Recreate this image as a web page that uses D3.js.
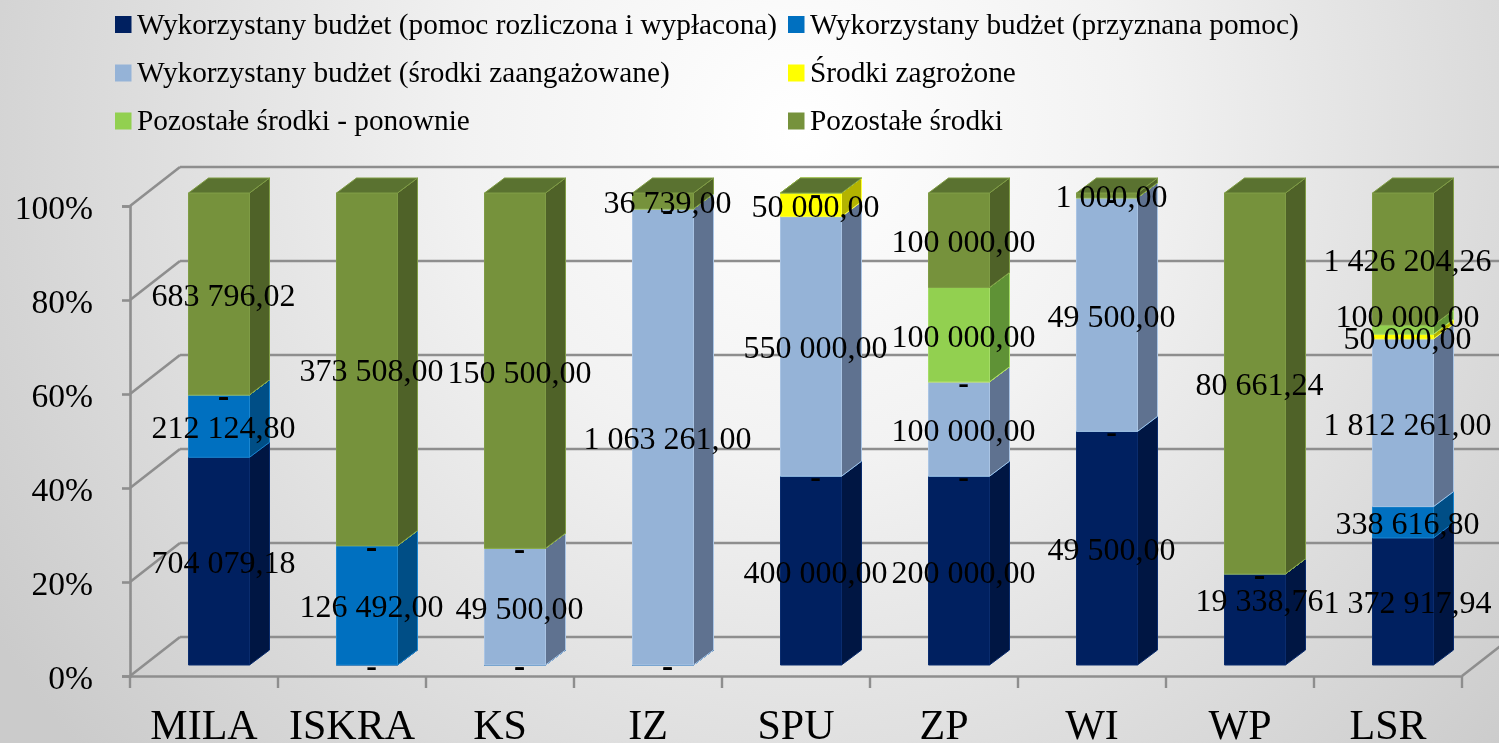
<!DOCTYPE html>
<html>
<head>
<meta charset="utf-8">
<script src="https://cdn.jsdelivr.net/npm/d3@7"></script>
<style>
  html, body { margin: 0; padding: 0; overflow: hidden; }
  text { font-family: "Liberation Serif", serif; fill: #000; }
  svg { filter: blur(0.4px); }
</style>
</head>
<body>
<div id="chart"></div>
<script>
var categories = ["MILA", "ISKRA", "KS", "IZ", "SPU", "ZP", "WI", "WP", "LSR"];
var seriesNames = [
  "Wykorzystany budżet (pomoc rozliczona i wypłacona)",
  "Wykorzystany budżet (przyznana pomoc)",
  "Wykorzystany budżet (środki zaangażowane)",
  "Środki zagrożone",
  "Pozostałe środki - ponownie",
  "Pozostałe środki"
];
var wyplacona   = [704079.18, 0, 0, 0, 400000, 200000, 49500, 19338.76, 1372917.94];
var przyznana   = [212124.80, 126492, 0, 0, 0, 0, 0, 0, 338616.80];
var zaangazowane = [0, 0, 49500, 1063261, 550000, 100000, 49500, 0, 1812261];
var zagrozone   = [0, 0, 0, 0, 50000, 0, 0, 0, 50000];
var ponownie    = [0, 0, 0, 0, 0, 100000, 0, 0, 100000];
var pozostale   = [683796.02, 373508, 150500, 36739, 0, 100000, 1000, 80661.24, 1426204.26];
var seriesValues = [wyplacona, przyznana, zaangazowane, zagrozone, ponownie, pozostale];

var frontColors = ["#002060", "#0070c0", "#95b3d7", "#ffff00", "#92d050", "#76923c"];
var sideColors  = ["#001643", "#004e86", "#5f7290", "#b3b300", "#5f9236", "#4f6228"];
var topColors   = ["#001b52", "#005fa3", "#7f98b7", "#d9d900", "#7cb144", "#5a7230"];
var edgeColors  = ["#0a2c6e", "#1a86d0", "#a9c4e4", "#ffff33", "#a4dc66", "#7f9c45"];
var yTicks = [0, 0.2, 0.4, 0.6, 0.8, 1];

var W = 1499, H = 743;
var depth = { dx: 50, dy: -39 };      // wall offset from the front plane
var barDepth = { dx: 20, dy: -15 };
var grey = "#8e8e8e";

var svg = d3.select("#chart").append("svg")
  .attr("width", W)
  .attr("height", H)
  .style("display", "block");

var grad = svg.append("defs").append("radialGradient")
  .attr("id", "bg")
  .attr("gradientUnits", "userSpaceOnUse")
  .attr("cx", 800).attr("cy", 130).attr("r", 950);
grad.append("stop").attr("offset", "0").attr("stop-color", "#ffffff");
grad.append("stop").attr("offset", "0.35").attr("stop-color", "#f2f2f2");
grad.append("stop").attr("offset", "1").attr("stop-color", "#cbcbcb");

svg.append("rect").attr("width", W).attr("height", H).attr("fill", "url(#bg)");

var x = d3.scaleBand().domain(categories).range([130, 1462]);
var y = d3.scaleLinear().domain([0, 1]).range([676, 206]);
var yBar = d3.scaleLinear().domain([0, 1]).range([665, 193]);

// walls
var walls = svg.append("g").attr("fill", "none").attr("stroke", grey).attr("stroke-width", 2.6);

walls.selectAll("line.back").data(yTicks).join("line")
  .attr("class", "back")
  .attr("x1", x.range()[0] + depth.dx).attr("x2", W + 5)
  .attr("y1", function (d) { return y(d) + depth.dy; })
  .attr("y2", function (d) { return y(d) + depth.dy; });

walls.selectAll("line.diag").data(yTicks).join("line")
  .attr("class", "diag")
  .attr("x1", x.range()[0]).attr("x2", x.range()[0] + depth.dx)
  .attr("y1", function (d) { return y(d); })
  .attr("y2", function (d) { return y(d) + depth.dy; });

walls.append("line")
  .attr("x1", x.range()[1]).attr("y1", y(0))
  .attr("x2", x.range()[1] + depth.dx).attr("y2", y(0) + depth.dy);

// axes
var yAxis = d3.axisLeft(y)
  .tickValues(yTicks)
  .tickFormat(d3.format(".0%"))
  .tickSize(8)
  .tickPadding(29);

var yG = svg.append("g").attr("transform", "translate(" + x.range()[0] + ",0)").call(yAxis);
yG.selectAll("line, path").attr("stroke", grey).attr("stroke-width", 2.6);
yG.selectAll("text")
  .attr("font-size", 33.6)
  .attr("dy", "0.38em")
  .attr("font-family", "Liberation Serif")
  .attr("fill", "#000");

var xAxis = d3.axisBottom(x).tickSize(0).tickPadding(33);
var xG = svg.append("g").attr("transform", "translate(0," + y(0) + ")").call(xAxis);
xG.select(".domain").attr("stroke", grey).attr("stroke-width", 2.6);
xG.selectAll("text").attr("font-size", 42).attr("font-family", "Liberation Serif").attr("fill", "#000");

xG.selectAll("line.sep").data(categories.concat(["end"])).join("line")
  .attr("class", "sep")
  .attr("x1", function (d, i) { return x.range()[0] + i * x.step(); })
  .attr("x2", function (d, i) { return x.range()[0] + i * x.step(); })
  .attr("y1", 0).attr("y2", 12)
  .attr("stroke", grey).attr("stroke-width", 2.4);

// bars
var rows = categories.map(function (c, i) {
  var row = { cat: c };
  seriesNames.forEach(function (s, k) { row[s] = seriesValues[k][i]; });
  return row;
});

var stacked = d3.stack().keys(seriesNames).offset(d3.stackOffsetExpand)(rows);

var barW = 61;
var barShift = 15;   // front face starts this far right of the band centre minus half width
function barLeft(cat) { return x(cat) + x.bandwidth() / 2 - barW / 2 + barShift; }

function poly(pts) { return d3.line()(pts) + "Z"; }

categories.forEach(function (cat, ci) {
  var g = svg.append("g").attr("class", "bar");
  var x0 = barLeft(cat), x1 = x0 + barW;
  var dx = barDepth.dx, dy = barDepth.dy;

  stacked.forEach(function (layer, k) {
    var yb = yBar(layer[ci][0]), yt = yBar(layer[ci][1]);
    var edge = edgeColors[k];

    if (yb - yt > 0.01) {
      g.append("path")
        .attr("d", poly([[x1, yb], [x1 + dx, yb + dy], [x1 + dx, yt + dy], [x1, yt]]))
        .attr("fill", sideColors[k]).attr("stroke", edge).attr("stroke-width", 1);
      g.append("path")
        .attr("d", poly([[x0, yb], [x1, yb], [x1, yt], [x0, yt]]))
        .attr("fill", frontColors[k]).attr("stroke", edge).attr("stroke-width", 1);
    }
    g.append("path")
      .attr("d", poly([[x0, yt], [x1, yt], [x1 + dx, yt + dy], [x0 + dx, yt + dy]]))
      .attr("fill", topColors[k]).attr("stroke", edge).attr("stroke-width", 1);
  });
});

// data labels
var plFormat = d3.formatLocale({ decimal: ",", thousands: " ", grouping: [3], currency: ["", ""] }).format(",.2f");
var labels = svg.append("g").attr("class", "labels");

stacked.forEach(function (layer, k) {
  layer.forEach(function (d, ci) {
    var v = seriesValues[k][ci];
    var cat = categories[ci];
    var cx = barLeft(cat) + barW / 2 + 4.5;
    var mid = (yBar(d[0]) + yBar(d[1])) / 2;
    // a couple of labels were dragged by hand in the original
    if (cat === "LSR" && k === 4) mid -= 15;
    if (cat === "WP" && k === 0) mid -= 20;
    labels.append("text")
      .attr("x", cx)
      .attr("y", v === 0 ? mid + 11 : mid + 12)
      .attr("text-anchor", "middle")
      .attr("font-size", 32)
      .attr("font-weight", v === 0 ? 700 : 400)
      .text(v === 0 ? "-" : plFormat(v));
  });
});

// legend
var legendCols = [115, 788];
var legendRows = [25, 73.5, 121.5];
var legend = svg.append("g").attr("class", "legend");
seriesNames.forEach(function (s, i) {
  var lx = legendCols[i % 2], ly = legendRows[Math.floor(i / 2)];
  legend.append("rect")
    .attr("x", lx).attr("y", ly - 9)
    .attr("width", 16.5).attr("height", 17)
    .attr("fill", frontColors[i]);
  legend.append("text")
    .attr("x", lx + 22).attr("y", ly + 8.5)
    .attr("font-size", 29.3)
    .text(s);
});
</script>
</body>
</html>
